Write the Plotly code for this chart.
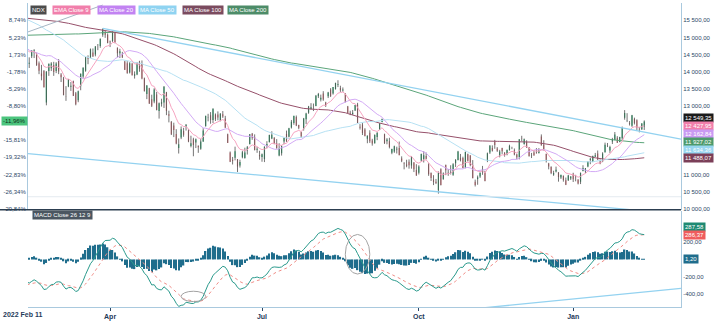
import math
import numpy as np
import pandas as pd
import plotly.graph_objects as go

# ---------------------------------------------------------------- data
# NDX daily closes before the plotted window (Apr 26 2021 - Feb 10 2022);
# they only seed the moving averages and the MACD.
close_before = [
    14138, 14090, 14050, 14082, 13860,
    13810, 13560, 13500, 13590, 13720, 13400, 13390, 13030, 13120, 13430,
    13340, 13260, 13300, 13540, 13470, 13700, 13720, 13760, 13710, 13690,
    13660, 13680, 13540, 13770, 13820, 13820, 13830, 13990, 14020, 14140, 14050,
    14020, 14160, 14020, 14140, 14270, 14270, 14370, 14360, 14500, 14520, 14550,
    14580, 14800, 14890, 14910, 14800, 14890, 14960, 14990, 15020, 14860, 14730,
    14590, 14780, 14860, 14990, 15120, 15150, 14890, 14960, 14980, 14960,
    14960, 15030, 15090, 15190, 15120, 15150, 15070, 15050, 15110, 15160, 15150,
    15010, 14850, 14960, 15150, 15340, 15380, 15400, 15310, 15460, 15590, 15580,
    15610, 15600, 15650, 15690, 15620, 15580, 15460, 15430, 15440, 15560, 15580,
    15330, 15010, 15030, 15190, 15320, 15340, 15210, 14780, 14730, 14690,
    14790, 14470, 14660, 14750, 14910, 14860, 14700, 14650, 14780, 15100, 15150,
    15330, 15460, 15430, 15520, 15340, 15500, 15580, 15600, 15770, 15850,
    15950, 16030, 16190, 16350, 16360, 16350, 16250, 15850, 15950, 16120, 16100,
    16230, 16260, 16420, 16570, 16370, 16300, 16360, 15990, 16340, 16140,
    15840, 15990, 15710, 15850, 16330, 16390, 16160, 16330, 16130, 15960, 16320,
    15920, 15920, 15760, 16130, 16280, 16370, 16570, 16480, 16470, 16410, 16320,
    16500, 16280, 15770, 15770, 15600, 15610, 15850, 15910, 15510, 15610,
    15200, 15030, 14830, 14440, 14510, 14150, 14150, 14000, 14440, 14930,
    15020, 15120, 14500, 14700, 14590, 14720, 15050, 14710,
]

# exchange holidays inside the plotted window
holidays = ["2022-02-21", "2022-04-15", "2022-05-30", "2022-06-20", "2022-07-04",
            "2022-09-05", "2022-11-24", "2022-12-26", "2023-01-02", "2023-01-16"]
dates = [d.strftime("%Y-%m-%d") for d in pd.bdate_range("2022-02-11", "2023-02-14")
         if d.strftime("%Y-%m-%d") not in holidays]

open_ = [
    14700, 14230, 14450, 14560, 14520, 14250, 13950, 14020, 13100, 14020,
    14100, 14200, 14020, 14330, 13920, 13810, 13280, 13570, 13560, 13720,
    13370, 13170, 13580, 13860, 14030, 14420, 14410, 14560, 14500, 14780,
    14750, 15080, 15170, 15080, 14880, 14900, 15130, 14700, 14540, 14510,
    14300, 14250, 13980, 14240, 13880, 13920, 14300, 14230, 13810, 13350,
    13520, 13200, 13130, 13332, 12852, 13062, 13102, 13402, 12762, 12532,
    12432, 12182, 11772, 12082, 12272, 12392, 12282, 11832, 12032, 11932,
    11832, 11752, 11962, 12412, 12662, 12732, 12592, 12752, 12752, 12572,
    12762, 12632, 12172, 11642, 11432, 11492, 11442, 11262, 11502, 11482,
    11702, 11882, 12192, 12092, 11722, 11572, 11512, 11452, 11842, 11952,
    12052, 12062, 11912, 11552, 11622, 11962, 12182, 12102, 12372, 12502,
    12682, 12442, 12232, 12332, 12612, 12802, 12912, 12912, 13002, 13282,
    13192, 13362, 13102, 13282, 13482, 13362, 13492, 13622, 13522, 13452,
    13362, 12982, 12802, 12762, 12872, 13042, 12392, 12462, 12312, 12042,
    12222, 11992, 11912, 12092, 12312, 12532, 12172, 11972, 11972, 11632,
    11672, 11732, 11772, 11470, 11330, 11290, 11370, 11260, 11350, 11130,
    11050, 11410, 11450, 11540, 11300, 11040, 10850, 10790, 10540, 11150,
    10860, 11280, 11020, 11040, 10990, 11330, 11420, 11490, 11480, 11200,
    11590, 11560, 11280, 10790, 10870, 10940, 11080, 11080, 11400, 11640,
    11770, 11950, 11760, 11530, 11770, 11640, 11590, 11710, 11790, 11710,
    11580, 11510, 12060, 11890, 11950, 11790, 11540, 11640, 11640, 11630,
    12110, 11870, 11600, 11320, 11220, 10990, 11090, 11060, 10910, 10960,
    10830, 10830, 10880, 11020, 10920, 10850, 10790, 11100, 11090, 11230,
    11420, 11370, 11520, 11610, 11380, 11380, 11650, 11840, 11700, 11960,
    12010, 12070, 11950, 12060, 12660, 12560, 12500, 12420, 12630, 12580,
    12330, 12320, 12400,
]
high = [
    14790, 14420, 14630, 14660, 14560, 14300, 14200, 14050, 14020, 14240,
    14280, 14290, 14280, 14370, 13960, 13850, 13580, 13790, 13700, 13740,
    13410, 13450, 13950, 14130, 14430, 14480, 14680, 14680, 14750, 14810,
    14970, 15265, 15200, 15120, 14910, 15180, 15150, 14710, 14670, 14580,
    14320, 14310, 14280, 14250, 14010, 14280, 14320, 14330, 13830, 13610,
    13530, 13330, 13520, 13412, 13102, 13212, 13582, 13412, 12862, 12562,
    12512, 12322, 12052, 12402, 12362, 12472, 12322, 12132, 12072, 12052,
    11852, 12032, 12352, 12712, 12772, 12822, 12932, 12782, 12842, 12792,
    12852, 12712, 12192, 11672, 11512, 11812, 11452, 11432, 11692, 11782,
    11832, 12182, 12212, 12172, 11802, 11692, 11612, 11822, 11972, 12162,
    12262, 12092, 12032, 11912, 11852, 12072, 12282, 12362, 12592, 12712,
    12722, 12452, 12252, 12652, 12802, 13002, 13082, 13072, 13322, 13382,
    13332, 13432, 13122, 13412, 13522, 13552, 13682, 13752, 13592, 13542,
    13372, 13002, 12862, 12882, 13032, 13092, 12472, 12502, 12352, 12142,
    12292, 12042, 12172, 12242, 12502, 12632, 12192, 12062, 12072, 11752,
    11842, 11812, 11962, 11530, 11360, 11430, 11440, 11540, 11360, 11300,
    11270, 11610, 11680, 11640, 11330, 11060, 10980, 10870, 11090, 11180,
    11060, 11290, 11160, 11270, 11330, 11450, 11690, 11600, 11520, 11670,
    11610, 11560, 11420, 10850, 10970, 11060, 11250, 11110, 11640, 11860,
    11850, 12010, 11800, 11720, 11780, 11650, 11720, 11870, 11810, 11760,
    11610, 12030, 12130, 12050, 12000, 11800, 11630, 11710, 11770, 11770,
    12170, 12000, 11610, 11340, 11240, 11110, 11230, 11070, 10990, 10970,
    10910, 10990, 10950, 11050, 10990, 10860, 11060, 11270, 11190, 11380,
    11490, 11550, 11630, 11700, 11440, 11650, 11930, 11920, 11840, 12070,
    12240, 12120, 12100, 12400, 12880, 12790, 12560, 12740, 12660, 12610,
    12390, 12500, 12580,
]
low = [
    14200, 14110, 14400, 14400, 14170, 13930, 13750, 13540, 13020, 13880,
    14020, 13880, 13960, 13930, 13700, 13310, 13150, 13550, 13440, 13290,
    13020, 13110, 13460, 13820, 14000, 14220, 14400, 14430, 14450, 14630,
    14700, 15020, 14990, 14830, 14720, 14870, 14830, 14420, 14400, 14400,
    14050, 13940, 13950, 13890, 13800, 13900, 14000, 13780, 13420, 13200,
    13060, 12970, 13080, 12872, 12632, 12982, 12942, 12732, 12522, 12152,
    12092, 11882, 11612, 12032, 12102, 12282, 11942, 11792, 11532, 11772,
    11632, 11722, 11952, 12402, 12552, 12482, 12502, 12562, 12582, 12552,
    12652, 12362, 11922, 11362, 11292, 11412, 11072, 11202, 11472, 11462,
    11582, 11882, 12012, 11702, 11632, 11432, 11372, 11362, 11762, 11932,
    12032, 11882, 11752, 11532, 11552, 11882, 11952, 12082, 12342, 12452,
    12412, 12322, 12072, 12282, 12472, 12772, 12892, 12852, 12992, 13232,
    13132, 13152, 12972, 13232, 13262, 13332, 13482, 13552, 13412, 13412,
    13102, 12782, 12732, 12742, 12852, 12502, 12312, 12152, 12112, 11912,
    11922, 11842, 11902, 12002, 12302, 12522, 11892, 11882, 11762, 11592,
    11632, 11612, 11562, 11360, 11150, 11210, 11170, 11170, 11070, 10960,
    11000, 11380, 11350, 11440, 10960, 10810, 10690, 10720, 10440, 10680,
    10850, 10980, 10960, 11000, 10960, 11220, 11410, 11380, 11180, 11180,
    11380, 11240, 10890, 10650, 10700, 10900, 10990, 10800, 11360, 11600,
    11670, 11750, 11660, 11500, 11600, 11520, 11560, 11700, 11740, 11560,
    11440, 11440, 11970, 11870, 11780, 11520, 11480, 11550, 11610, 11610,
    11840, 11700, 11350, 11150, 11010, 10960, 11060, 10790, 10870, 10790,
    10690, 10810, 10840, 10780, 10800, 10710, 10720, 11090, 11040, 11210,
    11300, 11360, 11510, 11420, 11300, 11360, 11640, 11800, 11630, 11890,
    12000, 11920, 11940, 11980, 12600, 12530, 12430, 12390, 12460, 12290,
    12230, 12300, 12300,
]
close = [
    14253.13, 14260, 14620, 14630, 14200, 14030, 13870, 13550, 14000, 14230,
    14240, 13990, 14240, 14010, 13840, 13320, 13270, 13770, 13590, 13300,
    13050, 13430, 13940, 14120, 14420, 14380, 14660, 14450, 14740, 14780,
    14960, 15240, 15080, 14840, 14860, 15170, 14860, 14540, 14600, 14420,
    14060, 13960, 14250, 13900, 13930, 14250, 14090, 13800, 13440, 13600,
    13070, 13010, 13480, 12882, 13082, 13112, 13562, 12852, 12712, 12172,
    12302, 11902, 11882, 12322, 12162, 12452, 11962, 11912, 11862, 12032,
    11792, 11962, 12282, 12712, 12672, 12592, 12922, 12612, 12662, 12772,
    12692, 12362, 11922, 11372, 11392, 11682, 11232, 11362, 11652, 11642,
    11792, 12172, 12072, 11712, 11752, 11532, 11592, 11812, 11892, 12152,
    12162, 11892, 11772, 11762, 11832, 12072, 11972, 12352, 12542, 12712,
    12432, 12362, 12112, 12632, 12782, 12982, 12962, 12912, 13302, 13352,
    13242, 13192, 13012, 13392, 13292, 13552, 13672, 13642, 13462, 13482,
    13122, 12792, 12772, 12802, 13032, 12502, 12362, 12212, 12122, 12132,
    11972, 11902, 12152, 12212, 12492, 12622, 11922, 12022, 11802, 11742,
    11822, 11752, 11559, 11400, 11310, 11250, 11270, 11500, 11150, 10970,
    11230, 11600, 11560, 11460, 11010, 10900, 10780, 10750, 11040, 10690,
    11030, 11120, 11050, 11050, 11300, 11420, 11670, 11410, 11190, 11660,
    11400, 11280, 10890, 10690, 10920, 11050, 11160, 10810, 11620, 11840,
    11690, 11860, 11690, 11670, 11680, 11560, 11720, 11840, 11789.2, 11580,
    11500, 12030, 12050, 12030, 11790, 11540, 11550, 11557.59, 11620, 11700,
    11850, 11740, 11400, 11230, 11040, 11040, 11141.1, 10930, 10990, 10840,
    10700, 10970, 10940, 10860, 10910, 10740, 11040, 11192.41, 11180, 11380,
    11460, 11540, 11560, 11435.86, 11315.1, 11615.1, 11865.1, 11825.1, 11805.1, 12034.45,
    12167.4, 11927.4, 12097.4, 12357.4, 12796.64, 12567.4, 12483, 12733, 12503, 12363,
    12323.93, 12492.07, 12549.35,
]

# month ticks on the time axis
tick_dates = ["2022-04-01", "2022-07-01", "2022-10-03", "2023-01-03"]
tick_text = ["Apr", "Jul", "Oct", "Jan"]

# percentage scale (left) and price scale (right)
pct_ticks = [10000, 10500, 11000, 11500, 12000, 13000, 13500, 14000, 14500, 15000, 15500]
pct_text = ["-29,84%", "-26,34%", "-22,83%", "-19,32%", "-15,81%",
            "-8,80%", "-5,29%", "-1,78%", "1,73%", "5,23%", "8,74%"]
price_ticks = [10000, 10500, 11000, 13000, 13500, 14000, 14500, 15000, 15500]
macd_ticks = [-400, -200, 200]

# hand-drawn trend lines: (date, value) anchors
upper_trend = [("2022-03-29", 15265), ("2022-12-13", 12813)]
lower_trend = [("2022-06-16", 11040), ("2022-10-13", 10494)]
rising_trend = [("2022-02-11", 15150), ("2022-03-24", 15870)]
macd_trend = [("2022-12-01", -519), ("2023-02-14", -379)]
# ellipses marking MACD crossings: (start date, end date, low, high)
macd_marks = [("2022-05-13", "2022-05-27", -490, -370),
              ("2022-08-19", "2022-09-02", -170, 290)]

# ---------------------------------------------------------------- indicators
n = len(close)
full = pd.Series(close_before + close, dtype=float)
ema9 = full.ewm(span=9, adjust=False).mean().to_numpy()[-n:]
ma20 = full.rolling(20).mean().to_numpy()[-n:]
ma50 = full.rolling(50).mean().to_numpy()[-n:]
ma100 = full.rolling(100).mean().to_numpy()[-n:]
ma200 = full.rolling(200).mean().to_numpy()[-n:]
macd_full = full.ewm(span=12, adjust=False).mean() - full.ewm(span=26, adjust=False).mean()
signal_full = macd_full.ewm(span=9, adjust=False).mean()
macd = macd_full.to_numpy()[-n:]
signal = signal_full.to_numpy()[-n:]
hist = macd - signal

x = np.arange(n)
pos = {d: i for i, d in enumerate(dates)}

# ---------------------------------------------------------------- geometry
W, H = 715, 322
PL, PR = 28, 681                  # plot left / right (px)
MAIN_T, MAIN_B = 3, 211
MACD_T, MACD_B = 212, 309
X_RANGE = [0.5, 267]
Y_RANGE = [9972, 16008]
M_RANGE = [-554, 566]

FONT = "Arial, Liberation Sans, sans-serif"
TXT = "#2b4766"
AXL = "#a9c9de"
TREND = "#93d2f0"


def px_main(v):
    return MAIN_T + (Y_RANGE[1] - v) / (Y_RANGE[1] - Y_RANGE[0]) * (MAIN_B - MAIN_T)


def px_macd(v):
    return MACD_T + (M_RANGE[1] - v) / (M_RANGE[1] - M_RANGE[0]) * (MACD_B - MACD_T)


def fmt_num(v):
    return f"{v:,.2f}".replace(",", " ").replace(".", ",")


def stack_up(pys, gap):
    """Keep the lowest tag on its value and push the others upward."""
    order = sorted(range(len(pys)), key=lambda i: -pys[i])
    out = [0.0] * len(pys)
    prev = None
    for i in order:
        p = pys[i] if prev is None else min(pys[i], prev - gap)
        out[i] = p
        prev = p
    return out


def line_through(anchors, x_from, x_to):
    (d0, v0), (d1, v1) = anchors
    i0, i1 = pos[d0], pos[d1]
    slope = (v1 - v0) / (i1 - i0)
    return [x_from, x_to], [v0 + slope * (x_from - i0), v0 + slope * (x_to - i0)]


# ---------------------------------------------------------------- figure
fig = go.Figure()

# dark wicks under coloured bodies
wx, wy = [], []
for i in range(n):
    wx += [x[i], x[i], None]
    wy += [low[i], high[i], None]
fig.add_trace(go.Scatter(x=wx, y=wy, mode="lines", line=dict(color="#505050", width=0.8),
                         xaxis="x", yaxis="y", hoverinfo="skip"))
fig.add_trace(go.Candlestick(
    x=x, open=open_, high=high, low=low, close=close,
    increasing=dict(line=dict(color="#1fa36a", width=0), fillcolor="#1fa96b"),
    decreasing=dict(line=dict(color="#e46b73", width=0), fillcolor="#ea7880"),
    whiskerwidth=0, xaxis="x", yaxis="y", name="NDX"))

ma_styles = [
    (ma200, "#5ba57a"), (ma100, "#96506a"), (ma50, "#b6e1f3"),
    (ma20, "#d3aaf5"), (ema9, "#f6a4c0"),
]
for series, color in ma_styles:
    fig.add_trace(go.Scatter(x=x, y=series, mode="lines", line=dict(color=color, width=1),
                             xaxis="x", yaxis="y", hoverinfo="skip"))

for anchors, x_from in ((upper_trend, pos[upper_trend[0][0]]), (lower_trend, X_RANGE[0])):
    tx, ty = line_through(anchors, x_from, X_RANGE[1])
    fig.add_trace(go.Scatter(x=tx, y=ty, mode="lines", line=dict(color=TREND, width=1.3),
                             xaxis="x", yaxis="y", hoverinfo="skip"))
tx, ty = line_through(rising_trend, X_RANGE[0], pos[rising_trend[1][0]] + 3)
fig.add_trace(go.Scatter(x=tx, y=ty, mode="lines", line=dict(color="#a7b6c4", width=1),
                         xaxis="x", yaxis="y", hoverinfo="skip"))

# twin axis carrying the percentage scale
fig.add_trace(go.Scatter(x=[x[0]], y=[close[0]], mode="markers", marker=dict(opacity=0),
                         xaxis="x", yaxis="y3", hoverinfo="skip"))

# MACD panel
fig.add_trace(go.Bar(x=x, y=hist, width=0.55, marker=dict(color="#1f6d8c", line=dict(width=0)),
                     xaxis="x2", yaxis="y2", hoverinfo="skip"))
fig.add_trace(go.Scatter(x=x, y=signal, mode="lines", line=dict(color="#f08c86", width=1, dash="dot"),
                         xaxis="x2", yaxis="y2", hoverinfo="skip"))
fig.add_trace(go.Scatter(x=x, y=macd, mode="lines", line=dict(color="#2a9a8c", width=1),
                         xaxis="x2", yaxis="y2", hoverinfo="skip"))
tx, ty = line_through(macd_trend, 150, X_RANGE[1])
fig.add_trace(go.Scatter(x=tx, y=ty, mode="lines", line=dict(color=TREND, width=1.3),
                         xaxis="x2", yaxis="y2", hoverinfo="skip"))

xd = [PL / W, PR / W]
main_dom = [1 - MAIN_B / H, 1 - MAIN_T / H]
macd_dom = [1 - MACD_B / H, 1 - MACD_T / H]
small = dict(family=FONT, size=6, color=TXT)

fig.update_layout(
    width=W, height=H, margin=dict(l=0, r=0, t=0, b=0),
    paper_bgcolor="white", plot_bgcolor="white", showlegend=False,
    font=dict(family=FONT),
    xaxis=dict(domain=xd, range=X_RANGE, anchor="y", showticklabels=False, showgrid=False,
               zeroline=False, showline=False, rangeslider=dict(visible=False)),
    xaxis2=dict(domain=xd, range=X_RANGE, anchor="y2", matches="x",
                tickvals=[pos[d] for d in tick_dates], ticktext=tick_text,
                ticks="outside", ticklen=3, tickcolor=TXT, showline=True, linecolor=AXL,
                showgrid=False, zeroline=False,
                tickfont=dict(family=FONT, size=7, color="#1f3a5a", weight="bold")),
    yaxis=dict(domain=main_dom, range=Y_RANGE, side="right", anchor="x",
               tickvals=price_ticks, ticktext=[fmt_num(v) for v in price_ticks],
               showline=True, linecolor=AXL, showgrid=False, zeroline=False, tickfont=small),
    yaxis3=dict(overlaying="y", range=Y_RANGE, side="left", anchor="x",
                tickvals=pct_ticks, ticktext=pct_text,
                showline=True, linecolor=AXL, showgrid=False, zeroline=False, tickfont=small),
    yaxis2=dict(domain=macd_dom, range=M_RANGE, side="right", anchor="x2",
                tickvals=macd_ticks, ticktext=[fmt_num(v) for v in macd_ticks],
                showline=True, linecolor=AXL, showgrid=False, zeroline=False, tickfont=small),
)

shapes = [
    # faint level line low in the price panel
    dict(type="line", xref="x", yref="y", x0=X_RANGE[0], x1=X_RANGE[1], y0=10350, y1=10350,
         line=dict(color="#e4ebf0", width=1)),
    # panel separator
    dict(type="line", xref="paper", yref="paper", x0=0, x1=PR / W,
         y0=1 - MAIN_B / H, y1=1 - MAIN_B / H, line=dict(color="#2c3e50", width=1.6)),
]
for d0, d1, v0, v1 in macd_marks:
    shapes.append(dict(type="circle", xref="x2", yref="y2", x0=pos[d0], x1=pos[d1], y0=v0, y1=v1,
                       line=dict(color="#a3a3a3", width=1)))
fig.update_layout(shapes=shapes)

ann = []
# series tags along the top
tags = [("NDX", "#4c4c4c", 30), ("EMA Close 9", "#f17fab", 52), ("MA Close 20", "#c283f2", 97),
        ("MA Close 50", "#8fd3f1", 138), ("MA Close 100", "#7b4b5f", 182), ("MA Close 200", "#4d8c68", 227)]
for text, bg, left in tags:
    ann.append(dict(text=text, xref="paper", yref="paper", x=left / W, y=1 - 10 / H,
                    xanchor="left", yanchor="middle", showarrow=False, bgcolor=bg, borderpad=1,
                    font=dict(family=FONT, size=6, color="white")))
ann.append(dict(text="MACD Close 26 12 9", xref="paper", yref="paper", x=32 / W, y=1 - 216.5 / H,
                xanchor="left", yanchor="middle", showarrow=False, bgcolor="#4b5661", borderpad=1,
                font=dict(family=FONT, size=6, color="white")))
ann.append(dict(text="2022 Feb 11", xref="paper", yref="paper", x=1 / W, y=1 - 316 / H,
                xanchor="left", yanchor="middle", showarrow=False,
                font=dict(family=FONT, size=7, color="#1f3a5a", weight="bold")))

# last-value tags on the price scale
last_tags = [(close[-1], "#1b1b1b"), (ema9[-1], "#f17fab"), (ma20[-1], "#c99af3"),
             (ma200[-1], "#4d9a6c"), (ma50[-1], "#98d6f0"), (ma100[-1], "#7b3f58")]
ys = stack_up([px_main(v) for v, _ in last_tags], 8.0)
for (v, bg), py in zip(last_tags, ys):
    ann.append(dict(text=fmt_num(v), xref="paper", yref="paper", x=683 / W, y=1 - py / H,
                    xanchor="left", yanchor="middle", showarrow=False, bgcolor=bg, borderpad=1,
                    font=dict(family=FONT, size=6, color="white")))

pct = (close[-1] / close[0] - 1) * 100
pct_label = f"{math.floor(pct * 100) / 100:.2f}".replace(".", ",") + "%"
ann.append(dict(text=pct_label, xref="paper", yref="paper", x=1 / W, y=1 - px_main(close[-1]) / H,
                xanchor="left", yanchor="middle", showarrow=False, bgcolor="#4cc57e", borderpad=1,
                font=dict(family=FONT, size=6, color="#0f2f1c")))

macd_tags = [(macd[-1], "#1f8a73"), (signal[-1], "#ef5d5d"), (hist[-1], "#1f6d8c")]
ys = stack_up([px_macd(v) for v, _ in macd_tags], 7.5)
for (v, bg), py in zip(macd_tags, ys):
    ann.append(dict(text=fmt_num(v), xref="paper", yref="paper", x=683 / W, y=1 - py / H,
                    xanchor="left", yanchor="middle", showarrow=False, bgcolor=bg, borderpad=1,
                    font=dict(family=FONT, size=6, color="white")))

fig.update_layout(annotations=ann)
fig.write_html("out.html")
